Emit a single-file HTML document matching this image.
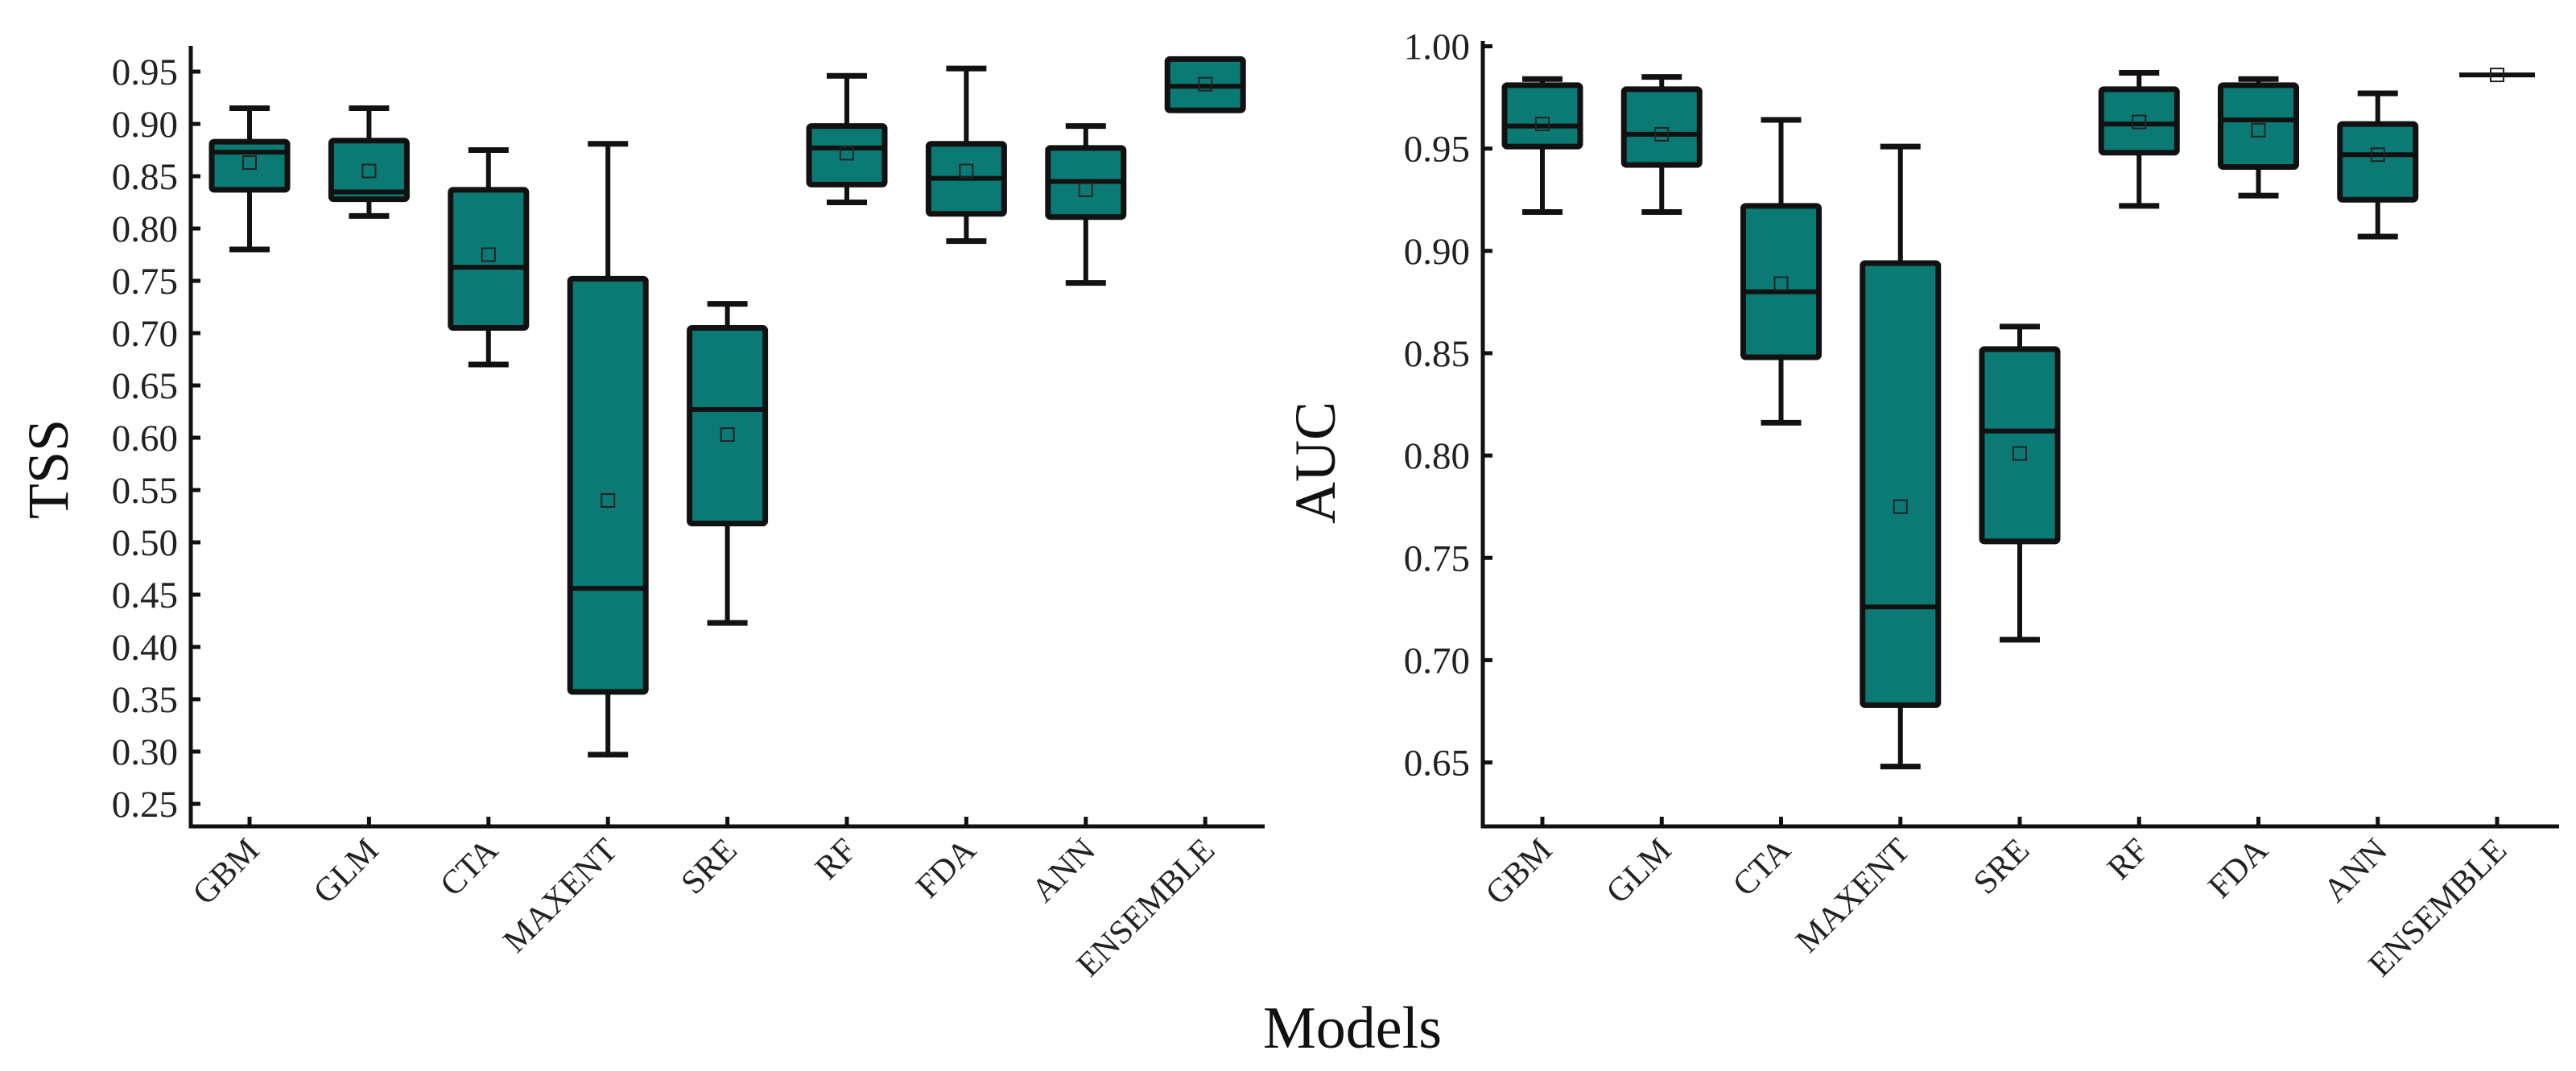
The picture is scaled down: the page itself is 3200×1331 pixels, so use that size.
<!DOCTYPE html>
<html><head><meta charset="utf-8"><style>
html,body{margin:0;padding:0;background:#fff;}
svg{display:block;font-family:"Liberation Serif",serif;}
</style></head><body>
<svg id="chart" width="3200" height="1331" viewBox="0 0 3200 1331" xmlns="http://www.w3.org/2000/svg">
<text x="1680" y="1302" font-size="74" text-anchor="middle" fill="#111">Models</text>
</svg>
<script>
const categories = ["GBM","GLM","CTA","MAXENT","SRE","RF","FDA","ANN","ENSEMBLE"];
const tssLow    = [0.780,0.812,0.670,0.297,0.423,0.825,0.788,0.748,0.913];
const tssQ1     = [0.837,0.828,0.705,0.357,0.518,0.842,0.814,0.811,0.913];
const tssMedian = [0.873,0.835,0.763,0.456,0.627,0.877,0.848,0.845,0.936];
const tssQ3     = [0.883,0.884,0.837,0.752,0.705,0.898,0.881,0.877,0.962];
const tssHigh   = [0.915,0.915,0.875,0.881,0.728,0.946,0.953,0.898,0.962];
const tssMean   = [0.863,0.855,0.775,0.540,0.603,0.872,0.855,0.837,0.938];
const tssTicks  = [0.25,0.30,0.35,0.40,0.45,0.50,0.55,0.60,0.65,0.70,0.75,0.80,0.85,0.90,0.95];
const aucLow    = [0.919,0.919,0.816,0.648,0.710,0.922,0.927,0.907,0.986];
const aucQ1     = [0.951,0.942,0.848,0.678,0.758,0.948,0.941,0.925,0.986];
const aucMedian = [0.961,0.957,0.880,0.726,0.812,0.962,0.964,0.947,0.986];
const aucQ3     = [0.981,0.979,0.922,0.894,0.852,0.979,0.981,0.962,0.986];
const aucHigh   = [0.984,0.985,0.964,0.951,0.863,0.987,0.984,0.977,0.986];
const aucMean   = [0.962,0.957,0.884,0.775,0.801,0.963,0.959,0.947,0.986];
const aucTicks  = [0.65,0.70,0.75,0.80,0.85,0.90,0.95,1.00];

const NS="http://www.w3.org/2000/svg";
const svg=document.getElementById('chart');
function mk(tag,attrs,parent){const e=document.createElementNS(NS,tag);for(const k in attrs)e.setAttribute(k,attrs[k]);(parent||svg).appendChild(e);return e;}

function panel(cfg){
  const g=mk('g',{});
  
  
  const y=v=>cfg.y0-(v-cfg.v0)*cfg.pxPerUnit;
  const x=i=>cfg.x0+i*cfg.step;
  const ax=mk('path',{d:`M${cfg.axX},${cfg.axTop} V${cfg.axY} H${cfg.axRight}`,stroke:'#111','stroke-width':5,fill:'none'},g);
  
  
  cfg.ticks.forEach(t=>{
    mk('line',{x1:cfg.axX,x2:cfg.axX+12,y1:y(t),y2:y(t),stroke:'#111','stroke-width':5},g);
    const tl=mk('text',{x:cfg.axX-16,y:y(t)+16,'font-size':47,'text-anchor':'end',fill:'#222'},g);
    tl.textContent=t.toFixed(2);
    
    
  });
  categories.forEach((c,i)=>{
    const cx=x(i);
    mk('line',{x1:cx,x2:cx,y1:cfg.axY,y2:cfg.axY-12,stroke:'#111','stroke-width':5},g);
    const lt=mk('text',{x:cx+14,y:cfg.axY+32,'font-size':42,'text-anchor':'end',fill:'#222',transform:`rotate(-45 ${cx+14} ${cfg.axY+32})`},g);
    lt.textContent=c;
    
    
    const bg=mk('g',{},g);
    
    
    const lo=cfg.low[i],q1=cfg.q1[i],md=cfg.med[i],q3=cfg.q3[i],hi=cfg.high[i],mn=cfg.mean[i];
    if(hi>q3){mk('line',{x1:cx,x2:cx,y1:y(hi),y2:y(q3),stroke:'#111','stroke-width':6},bg);mk('line',{x1:cx-25,x2:cx+25,y1:y(hi),y2:y(hi),stroke:'#111','stroke-width':7},bg);}
    if(lo<q1){mk('line',{x1:cx,x2:cx,y1:y(q1),y2:y(lo),stroke:'#111','stroke-width':6},bg);mk('line',{x1:cx-25,x2:cx+25,y1:y(lo),y2:y(lo),stroke:'#111','stroke-width':7},bg);}
    const h=Math.max(y(q1)-y(q3),0);
    mk('rect',{x:cx-47,y:y(q3),width:94,height:h,fill:'#0c7a74',stroke:'#111','stroke-width':7,rx:3},bg);
    mk('line',{x1:cx-47,x2:cx+47,y1:y(md),y2:y(md),stroke:'#111','stroke-width':6},bg);
    mk('rect',{x:cx-8,y:y(mn)-8,width:16,height:16,fill:'none',stroke:'#222','stroke-width':2},bg);
  });
  const t=mk('text',{x:0,y:0,'font-size':72,'text-anchor':'middle',fill:'#111',transform:`translate(${cfg.titleX},${cfg.titleY}) rotate(-90)`},g);
  t.textContent=cfg.title;
  
  
}
panel({name:'tss',title:'TSS',titleX:84,titleY:583,axX:237,axTop:57,axY:1027,axRight:1571,
  x0:310,step:148.4,y0:89,v0:0.95,pxPerUnit:1300,ticks:tssTicks,
  low:tssLow,q1:tssQ1,med:tssMedian,q3:tssQ3,high:tssHigh,mean:tssMean});
panel({name:'auc',title:'AUC',titleX:1658,titleY:575,axX:1842,axTop:51,axY:1027,axRight:3179,
  x0:1916,step:148.25,y0:57.5,v0:1.00,pxPerUnit:2543,ticks:aucTicks,
  low:aucLow,q1:aucQ1,med:aucMedian,q3:aucQ3,high:aucHigh,mean:aucMean});
</script>
</body></html>
